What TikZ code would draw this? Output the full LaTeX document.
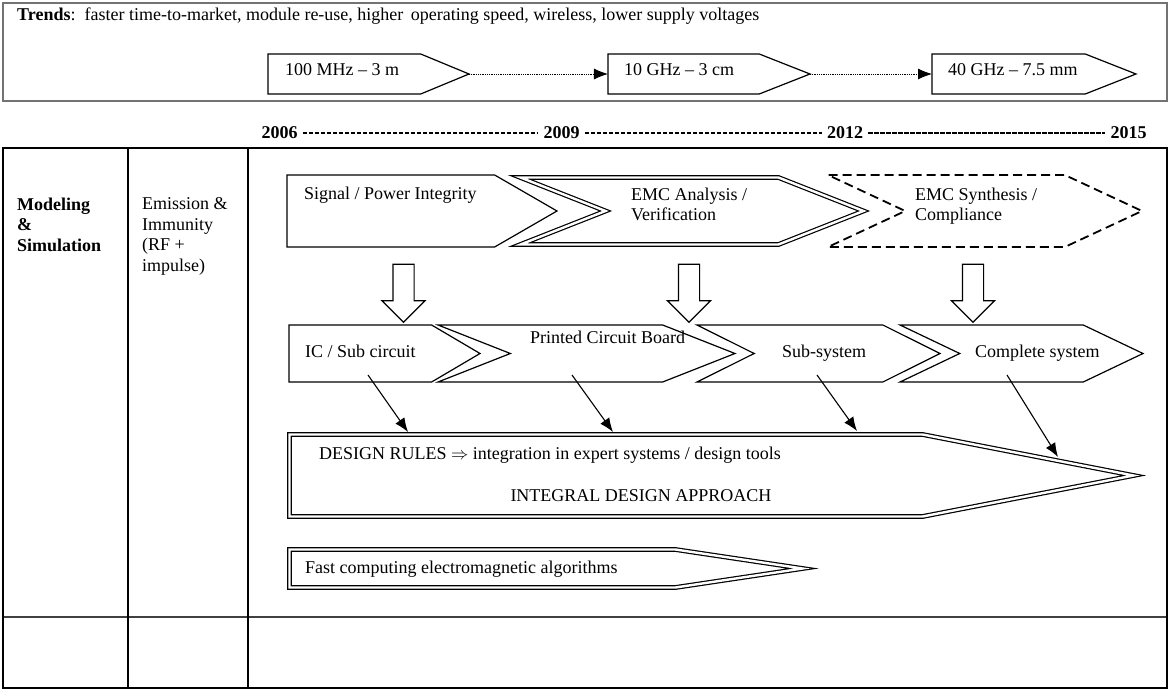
\documentclass[tikz,border=0pt]{standalone}
\usepackage{fontspec}
\setmainfont{Liberation Serif}
\usepackage{tikz}
\usetikzlibrary{positioning}
\usetikzlibrary{arrows.meta}
\usetikzlibrary{shapes.symbols}
\usetikzlibrary{shapes.arrows}
\newcommand{\dgmfont}{\fontsize{18}{20.5}\selectfont}
\tikzstyle{frame} = [draw=black!55, line width=1.8pt]
\tikzstyle{grid} = [draw, line width=2.4pt]
\tikzstyle{txt} = [anchor=base west, inner sep=0pt, font=\dgmfont]
\tikzstyle{boldtxt} = [txt, font=\dgmfont\bfseries]
\tikzstyle{stage} = [draw, signal, signal to=east, line width=1.2pt, inner sep=0pt, outer sep=0pt]
\tikzstyle{first stage} = [stage, anchor=west]
\tikzstyle{next stage} = [stage, signal from=west]
\tikzstyle{double stage} = [double, double distance=2.4pt]
\tikzstyle{hollow} = [draw, single arrow, shape border rotate=270, line width=1.2pt, minimum width=42pt, minimum height=58pt, single arrow head extend=11pt, single arrow head indent=0pt, inner sep=10pt]
\tikzstyle{year} = [anchor=base, inner sep=5pt, font=\dgmfont\bfseries]
\tikzstyle{year line} = [line width=1.5pt, dash pattern=on 4.5pt off 1.5pt]
\tikzstyle{dotted conn} = [->, densely dotted, line width=0.8pt]
\tikzstyle{thin conn} = [->, line width=1.1pt]

\begin{document}
\begin{tikzpicture}[x=1pt, y=-1pt, >={Latex[length=14pt,width=11pt]}]
    \useasboundingbox (0,0) rectangle (1171,690);

    % trends
    \draw[frame] (3,3) rectangle (1167,101);
    \node[txt] (trends) at (17,21) {\textbf{Trends}:\, faster time-to-market, module re-use, higher\, operating speed, wireless, lower supply voltages};
    \node[first stage, minimum width=201pt, minimum height=40pt, signal pointer angle=45] (mhz) at (268,74) {};
    \node[first stage, minimum width=202pt, minimum height=40pt, signal pointer angle=43] (ghz) at (608,74) {};
    \node[first stage, minimum width=204pt, minimum height=40pt, signal pointer angle=43] (mm) at (932,74) {};
    \node[txt] at (285,76) {100 MHz -- 3 m};
    \node[txt] at (624,76) {10 GHz -- 3 cm};
    \node[txt] at (948,76) {40 GHz -- 7.5 mm};
    \draw[dotted conn] (mhz) -- (ghz);
    \draw[dotted conn] (ghz) -- (mm);

    % time line
    \node[year] (y2006) at (279.5,139) {2006};
    \node[year] (y2009) at (561.5,139) {2009};
    \node[year] (y2012) at (845,139) {2012};
    \node[year] (y2015) at (1128.5,139) {2015};
    \draw[year line] (y2006) -- (y2009);
    \draw[year line] (y2009) -- (y2012);
    \draw[year line] (y2012) -- (y2015);

    % table
    \draw[line width=1.2pt, black!75] (3,617) -- (1167,617);
    \draw[grid] (3,148) rectangle (1167,688);
    \draw[grid] (128,148) -- (128,688);
    \draw[grid] (248,148) -- (248,688);
    \node[boldtxt, anchor=north west, align=left] (model) at (17,197.5) {Modeling\\\&\\Simulation};
    \node[txt, anchor=north west, align=left] (emission) at (142,197.5) {Emission \&\\Immunity\\(RF +\\impulse)};

    % analysis
    \node[first stage, minimum width=270pt, minimum height=72pt, signal pointer angle=60] (sp) at (287,211) {};
    \node[next stage, double stage, minimum width=343pt, minimum height=67pt, signal pointer angle=43] (ea) at (692,211) {};
    \node[next stage, dashed, dash pattern=on 9pt off 5pt, line width=1.8pt, minimum width=314pt, minimum height=72pt, signal pointer angle=50] (es) at (985,211) {};
    \node[txt] at (304,200) {Signal / Power Integrity};
    \node[txt, anchor=north west, align=left] at (631,187.5) {EMC Analysis /\\Verification};
    \node[txt, anchor=north west, align=left] at (915,187.5) {EMC Synthesis /\\Compliance};

    \node[hollow] (h1) at (403.5,288) {};
    \node[hollow] (h2) at (689,288) {};
    \node[hollow] (h3) at (973,288) {};

    % levels
    \node[first stage, minimum width=191pt, minimum height=57pt, signal pointer angle=61] (ic) at (289,353.5) {};
    \node[next stage, minimum width=297pt, minimum height=57pt, signal pointer angle=43] (pcb) at (586.5,353.5) {};
    \node[next stage, minimum width=243pt, minimum height=57pt, signal pointer angle=53] (ss) at (818.5,353.5) {};
    \node[next stage, minimum width=243pt, minimum height=57pt, signal pointer angle=51] (cs) at (1021.5,353.5) {};
    \node[txt] at (305,357) {IC / Sub circuit};
    \node[txt] at (530,343) {Printed Circuit Board};
    \node[txt] at (782,357) {Sub-system};
    \node[txt] at (975,357) {Complete system};

    % design rules
    \node[first stage, double stage, minimum width=844pt, minimum height=82pt, signal pointer angle=22] (dr) at (289.5,475.5) {};
    \node[txt] at (319,459) {DESIGN RULES $\Rightarrow$ integration in expert systems / design tools};
    \node[txt, anchor=base] at (641,501) {INTEGRAL DESIGN APPROACH};
    \node[first stage, double stage, minimum width=513pt, minimum height=38pt, signal pointer angle=17] (fc) at (289.5,568.5) {};
    \node[txt] at (305,573) {Fast computing electromagnetic algorithms};

    \coordinate (icfoot) at (368,375);
    \coordinate (pcbfoot) at (572,375);
    \coordinate (ssfoot) at (817,375);
    \coordinate (csfoot) at (1007,375);
    \coordinate (drin1) at (408,432);
    \coordinate (drin2) at (613,432);
    \coordinate (drin3) at (857,431);
    \coordinate (drin4) at (1058,457);
    \draw[thin conn] (icfoot) -- (drin1);
    \draw[thin conn] (pcbfoot) -- (drin2);
    \draw[thin conn] (ssfoot) -- (drin3);
    \draw[thin conn] (csfoot) -- (drin4);
\end{tikzpicture}
\end{document}
